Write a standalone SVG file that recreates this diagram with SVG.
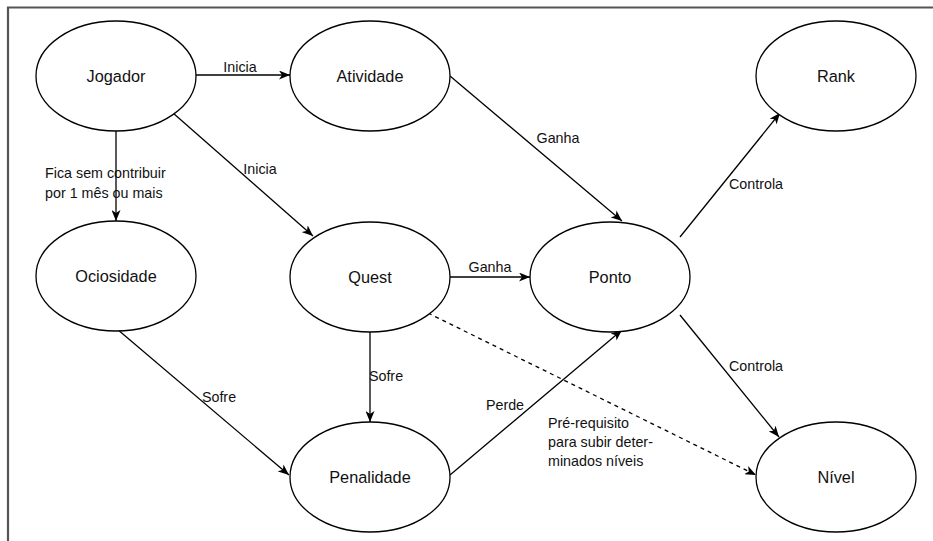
<svg xmlns="http://www.w3.org/2000/svg" width="933" height="541" viewBox="0 0 933 541">
<defs>
<style>
.node ellipse{fill:#fff;stroke:#000;stroke-width:1.3}
.node text{font-family:"Liberation Sans",Arial,sans-serif;font-size:16.3px;fill:#111;text-anchor:middle}
.edge{fill:none;stroke:#000;stroke-width:1.3;marker-end:url(#arr)}
.dash{stroke-dasharray:4 4}
.lbl{font-family:"Liberation Sans",Arial,sans-serif;font-size:14.3px;fill:#111}
.c{text-anchor:middle}
</style>
<marker id="arr" markerUnits="userSpaceOnUse" viewBox="0 0 11 9" refX="11" refY="4.5" markerWidth="11" markerHeight="9" orient="auto">
<path d="M0,0 L11,4.5 L0,9 L3,4.5 Z" fill="#000"/>
</marker>
</defs>
<rect width="933" height="541" fill="#fff"/>
<path d="M8,541 V7.5 H933" fill="none" stroke="#555" stroke-width="2.2"/>

<g id="connectors">
<line class="edge" x1="196" y1="75" x2="290" y2="75"/>
<line class="edge" x1="173" y1="113" x2="313" y2="236"/>
<line class="edge" x1="116" y1="131" x2="116" y2="221"/>
<line class="edge" x1="450" y1="76" x2="622" y2="221"/>
<line class="edge" x1="450" y1="277" x2="530" y2="277"/>
<line class="edge" x1="370" y1="332" x2="370" y2="422"/>
<line class="edge" x1="117" y1="329" x2="289" y2="475"/>
<line class="edge" x1="450" y1="475" x2="622" y2="330"/>
<line class="edge dash" x1="428" y1="313" x2="756" y2="475"/>
<line class="edge" x1="680" y1="237" x2="780" y2="113"/>
<line class="edge" x1="680" y1="315" x2="779" y2="437"/>
<text class="lbl c" x="240" y="72">Inicia</text>
<text class="lbl c" x="260" y="174">Inicia</text>
<text class="lbl" x="45" y="178">Fica sem contribuir</text>
<text class="lbl" x="45" y="198">por 1 mês ou mais</text>
<text class="lbl c" x="558" y="143">Ganha</text>
<text class="lbl c" x="490" y="272">Ganha</text>
<text class="lbl c" x="386" y="381">Sofre</text>
<text class="lbl c" x="219" y="402">Sofre</text>
<text class="lbl c" x="505" y="410">Perde</text>
<text class="lbl" x="548" y="428">Pré-requisito</text>
<text class="lbl" x="548" y="447">para subir deter-</text>
<text class="lbl" x="548" y="466">minados níveis</text>
<text class="lbl c" x="756" y="189">Controla</text>
<text class="lbl c" x="756" y="371">Controla</text>
</g>

<g id="jogador" class="node"><ellipse cx="116" cy="76" rx="80" ry="55"/><text x="116" y="82">Jogador</text></g>
<g id="atividade" class="node"><ellipse cx="370" cy="76" rx="80" ry="55"/><text x="370" y="82">Atividade</text></g>
<g id="rank" class="node"><ellipse cx="836" cy="76" rx="80" ry="55"/><text x="836" y="82">Rank</text></g>
<g id="ociosidade" class="node"><ellipse cx="116" cy="276" rx="80" ry="55"/><text x="116" y="282">Ociosidade</text></g>
<g id="quest" class="node"><ellipse cx="370" cy="277" rx="80" ry="55"/><text x="370" y="283">Quest</text></g>
<g id="ponto" class="node"><ellipse cx="610" cy="277" rx="80" ry="55"/><text x="610" y="283">Ponto</text></g>
<g id="penalidade" class="node"><ellipse cx="370" cy="477" rx="80" ry="55"/><text x="370" y="483">Penalidade</text></g>
<g id="nivel" class="node"><ellipse cx="836" cy="477" rx="80" ry="55"/><text x="836" y="483">Nível</text></g>
</svg>
